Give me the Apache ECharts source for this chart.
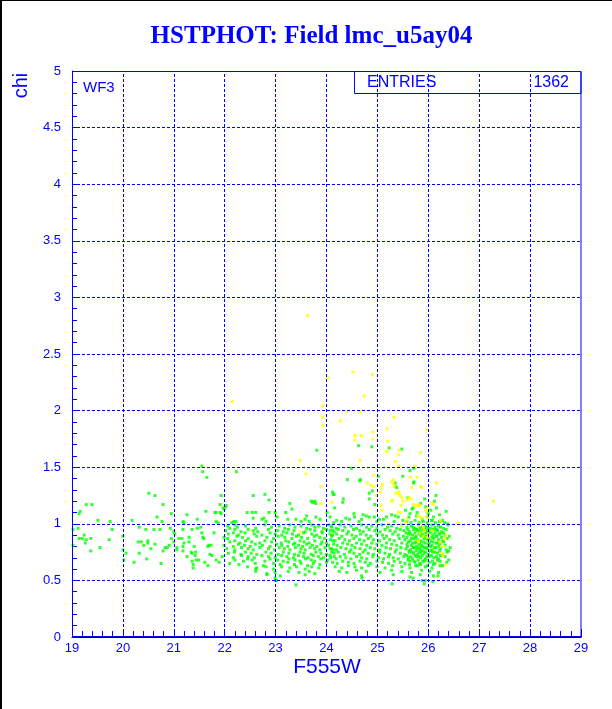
<!DOCTYPE html>
<html><head><meta charset="utf-8">
<script src="https://cdn.jsdelivr.net/npm/echarts@6/dist/echarts.min.js"></script>
<style>html,body{margin:0;padding:0;background:#fff}#c{width:612px;height:709px}</style>
</head><body><div id="c"></div>
<script>
const titleText = 'HSTPHOT: Field lmc_u5ay04';
const xName = 'F555W';
const yName = 'chi';
const chipLabel = 'WF3';
const statLabel = 'ENTRIES';
const statValue = '1362';
const xRange = [19, 29];
const yRange = [0, 5];
const xGridValues = [20, 21, 22, 23, 24, 25, 26, 27, 28];
const yGridValues = [0.5, 1, 1.5, 2, 2.5, 3, 3.5, 4, 4.5];

const greenLeft = [[19.28,1.17],[19.39,1.17],[19.14,1.09],[19.16,1.11],[19.51,1.03],[19.75,1.02],[19.12,0.96],[19.02,0.95],[19.24,0.90],[19.14,0.87],[19.20,0.87],[19.28,0.86],[19.37,0.87],[19.26,0.83],[19.02,0.81],[19.73,0.86],[19.79,0.95],[19.37,0.76],[19.55,0.79],[20.18,1.03],[20.00,0.89],[20.00,0.77],[20.06,0.74],[20.02,0.68],[20.22,0.66],[20.51,1.27],[20.63,1.25],[20.32,0.97],[20.45,0.95],[20.61,0.95],[20.73,0.95],[20.30,0.84],[20.36,0.84],[20.41,0.81],[20.49,0.83],[20.49,0.85],[20.55,0.78],[20.63,0.82],[20.32,0.74],[20.47,0.69],[20.75,0.65],[20.79,0.76],[20.83,0.79],[20.67,1.06],[20.77,1.02],[20.79,1.17],[20.95,1.09],[20.93,0.96],[20.95,0.87],[20.87,0.79],[20.91,0.81],[21.00,0.93],[21.00,0.84],[21.02,0.91],[21.10,0.87],[21.16,0.87],[21.20,1.01],[21.18,0.95],[21.26,1.08],[21.18,1.02],[21.30,0.88],[21.30,0.84],[21.20,0.83],[21.18,0.80],[21.06,0.79],[21.06,0.77],[21.18,0.76],[21.26,0.71],[21.36,0.95],[21.46,1.04],[21.46,0.96],[21.53,0.97],[21.55,0.92],[21.59,0.87],[21.57,0.88],[21.79,0.92],[21.40,0.80],[21.34,0.75],[21.36,0.74],[21.43,0.75],[21.42,0.72],[21.36,0.67],[21.44,0.68],[21.49,0.68],[21.38,0.64],[21.38,0.61],[21.61,0.66],[21.69,0.81],[21.73,0.81],[21.67,0.80],[21.71,0.73],[21.75,0.72],[21.83,0.68],[21.89,0.66],[21.67,0.63],[21.63,1.11],[21.81,1.10],[21.91,1.10],[21.83,1.02],[21.87,1.01],[21.91,1.17],[21.93,1.25],[21.97,1.14],[22.03,1.16]];

const greenMid = [[21.99,1.13],[22.01,1.15],[21.83,1.10],[21.93,1.09],[22.44,1.10],[22.54,1.10],[22.61,1.10],[22.87,1.10],[22.99,1.10],[22.56,1.05],[22.73,1.04],[22.81,1.02],[22.77,1.05],[22.18,1.02],[22.22,1.02],[22.14,1.01],[23.03,1.06],[23.20,1.10],[23.28,1.18],[23.32,1.13],[23.24,1.04],[23.40,1.04],[23.50,1.02],[23.58,1.04],[23.70,1.20],[23.75,1.19],[23.79,1.18],[23.79,1.06],[23.87,1.04],[23.66,1.02],[24.13,1.26],[24.07,1.06],[24.01,1.10],[22.56,1.25],[22.79,1.26],[22.87,1.21],
[22.06,0.98],[22.10,0.96],[22.20,0.99],[22.25,0.97],[22.41,0.98],[22.61,0.96],[22.79,0.99],[22.92,0.97],[23.07,0.98],[23.18,0.96],[23.28,0.99],[23.38,0.97],[23.50,0.98],[23.61,0.96],[23.71,0.99],[23.77,0.97],[23.85,0.98],[23.94,0.96],[24.04,0.99],[24.10,0.97],
[22.02,0.94],[22.20,0.95],[22.32,0.93],[22.46,0.95],[22.56,0.94],[22.65,0.93],[22.86,0.95],[23.04,0.94],[23.15,0.93],[23.25,0.95],[23.36,0.94],[23.58,0.93],[23.68,0.95],[23.77,0.94],[23.91,0.93],[24.00,0.95],[24.12,0.94],
[22.07,0.91],[22.17,0.92],[22.27,0.90],[22.40,0.92],[22.58,0.91],[22.73,0.90],[22.89,0.92],[22.99,0.91],[23.12,0.90],[23.22,0.92],[23.33,0.91],[23.45,0.90],[23.55,0.92],[23.71,0.91],[23.81,0.90],[23.92,0.92],[24.07,0.91],
[21.99,0.88],[22.06,0.87],[22.24,0.89],[22.35,0.88],[22.46,0.87],[22.63,0.89],[22.83,0.88],[22.96,0.87],[23.05,0.89],[23.18,0.88],[23.32,0.87],[23.41,0.89],[23.51,0.88],[23.63,0.87],[23.76,0.89],[23.87,0.88],[23.96,0.87],[24.10,0.89],
[22.10,0.84],[22.20,0.85],[22.30,0.83],[22.41,0.85],[22.53,0.84],[22.69,0.83],[22.79,0.85],[22.92,0.84],[23.11,0.83],[23.20,0.85],[23.26,0.84],[23.38,0.83],[23.48,0.85],[23.56,0.84],[23.66,0.83],[23.77,0.85],[23.91,0.84],[24.00,0.83],[24.13,0.85],
[21.99,0.81],[22.17,0.80],[22.27,0.82],[22.39,0.81],[22.50,0.80],[22.60,0.82],[22.74,0.81],[22.89,0.80],[23.02,0.82],[23.12,0.81],[23.24,0.80],[23.35,0.82],[23.45,0.81],[23.53,0.80],[23.61,0.82],[23.72,0.81],[23.81,0.80],[23.89,0.82],[24.04,0.81],
[22.04,0.78],[22.20,0.77],[22.33,0.79],[22.46,0.78],[22.56,0.77],[22.69,0.79],[22.86,0.78],[22.98,0.77],[23.07,0.79],[23.17,0.78],[23.28,0.77],[23.39,0.79],[23.50,0.78],[23.58,0.77],[23.68,0.79],[23.77,0.78],[23.87,0.77],[23.97,0.79],[24.07,0.78],[24.13,0.77],
[22.07,0.74],[22.19,0.75],[22.32,0.73],[22.41,0.75],[22.52,0.74],[22.63,0.73],[22.81,0.75],[22.91,0.74],[23.05,0.73],[23.15,0.75],[23.26,0.74],[23.37,0.73],[23.48,0.75],[23.56,0.74],[23.70,0.73],[23.79,0.75],[23.89,0.74],[24.00,0.73],[24.10,0.75],
[21.95,0.71],[22.17,0.70],[22.33,0.72],[22.46,0.71],[22.58,0.70],[22.73,0.72],[22.86,0.71],[22.99,0.70],[23.12,0.72],[23.22,0.71],[23.35,0.70],[23.45,0.72],[23.55,0.71],[23.64,0.70],[23.74,0.72],[23.84,0.71],[23.94,0.70],[24.07,0.72],[24.15,0.71],
[22.20,0.68],[22.37,0.67],[22.45,0.69],[22.54,0.68],[22.79,0.67],[22.89,0.69],[23.04,0.68],[23.15,0.67],[23.26,0.69],[23.38,0.68],[23.48,0.67],[23.59,0.69],[23.70,0.68],[23.77,0.67],[23.89,0.69],[24.02,0.68],
[22.10,0.65],[22.28,0.64],[22.60,0.65],[22.76,0.63],[22.96,0.65],[23.09,0.64],[23.24,0.66],[23.37,0.64],[23.50,0.65],[23.63,0.63],[23.74,0.65],[23.87,0.64],[24.00,0.66],
[22.45,0.62],[22.63,0.61],[22.81,0.62],[22.96,0.60],[23.12,0.62],[23.28,0.61],[23.41,0.62],[23.58,0.60],[23.71,0.62],[23.85,0.61],
[22.61,0.58],[22.99,0.57],[23.25,0.58],[23.46,0.57],[23.66,0.58],[23.77,0.56],[22.83,0.55],[23.09,0.54],[23.58,0.55],[22.99,0.52],[23.40,0.46],[23.01,0.50],[22.61,0.60]];

const greenRight = [[24.10,0.98],[24.19,0.96],[24.27,0.99],[24.36,0.97],[24.48,0.98],[24.59,0.96],[24.69,0.99],[24.79,0.97],[24.89,0.98],[24.99,0.96],[25.09,0.99],[25.20,0.97],[25.28,0.98],[25.38,0.96],[25.48,0.99],[25.58,0.97],[25.67,0.98],[25.74,0.96],[25.81,0.99],[25.87,0.97],[25.94,0.98],[26.00,0.96],[26.07,0.99],[26.13,0.97],[26.20,0.98],[26.30,0.96],[26.39,0.99],
[24.07,0.94],[24.15,0.93],[24.23,0.95],[24.32,0.94],[24.43,0.93],[24.53,0.95],[24.65,0.94],[24.72,0.93],[24.84,0.95],[24.95,0.94],[25.05,0.93],[25.15,0.95],[25.25,0.94],[25.35,0.93],[25.45,0.95],[25.52,0.94],[25.63,0.93],[25.71,0.95],[25.79,0.94],[25.85,0.93],[25.92,0.95],[25.98,0.94],[26.03,0.93],[26.10,0.95],[26.18,0.94],[26.26,0.93],[26.35,0.95],
[24.12,0.90],[24.20,0.91],[24.30,0.89],[24.40,0.91],[24.50,0.90],[24.58,0.89],[24.67,0.91],[24.78,0.90],[24.87,0.89],[24.99,0.91],[25.10,0.90],[25.18,0.89],[25.30,0.91],[25.41,0.90],[25.51,0.89],[25.61,0.91],[25.69,0.90],[25.76,0.89],[25.82,0.91],[25.89,0.90],[25.96,0.89],[26.02,0.91],[26.09,0.90],[26.15,0.89],[26.23,0.91],[26.33,0.90],[26.41,0.89],
[24.08,0.86],[24.17,0.85],[24.25,0.87],[24.36,0.86],[24.45,0.85],[24.54,0.87],[24.65,0.86],[24.74,0.85],[24.82,0.87],[24.92,0.86],[25.04,0.85],[25.13,0.87],[25.24,0.86],[25.33,0.85],[25.43,0.87],[25.54,0.86],[25.64,0.85],[25.72,0.87],[25.79,0.86],[25.85,0.85],[25.92,0.87],[25.98,0.86],[26.05,0.85],[26.11,0.87],[26.20,0.86],[26.28,0.85],[26.37,0.87],
[24.14,0.82],[24.21,0.81],[24.32,0.83],[24.41,0.82],[24.50,0.81],[24.59,0.83],[24.69,0.82],[24.79,0.81],[24.89,0.83],[24.99,0.82],[25.09,0.81],[25.18,0.83],[25.28,0.82],[25.38,0.81],[25.48,0.83],[25.58,0.82],[25.67,0.81],[25.74,0.83],[25.81,0.82],[25.87,0.81],[25.94,0.83],[26.00,0.82],[26.07,0.81],[26.15,0.83],[26.23,0.82],[26.33,0.81],
[24.10,0.78],[24.19,0.77],[24.28,0.79],[24.38,0.78],[24.48,0.77],[24.56,0.79],[24.66,0.78],[24.76,0.77],[24.86,0.79],[24.95,0.78],[25.05,0.77],[25.17,0.79],[25.26,0.78],[25.37,0.77],[25.46,0.79],[25.56,0.78],[25.65,0.77],[25.72,0.79],[25.79,0.78],[25.85,0.77],[25.92,0.79],[25.98,0.78],[26.07,0.77],[26.15,0.79],[26.24,0.78],[26.35,0.77],[26.43,0.79],
[24.15,0.74],[24.23,0.75],[24.35,0.73],[24.45,0.75],[24.54,0.74],[24.65,0.73],[24.72,0.75],[24.82,0.74],[24.92,0.73],[25.04,0.75],[25.15,0.74],[25.24,0.73],[25.35,0.75],[25.45,0.74],[25.54,0.73],[25.63,0.75],[25.71,0.74],[25.79,0.73],[25.85,0.75],[25.92,0.74],[26.00,0.73],[26.09,0.75],[26.18,0.74],[26.28,0.73],[26.37,0.75],
[24.08,0.70],[24.19,0.69],[24.27,0.71],[24.38,0.70],[24.48,0.69],[24.59,0.71],[24.69,0.70],[24.79,0.69],[24.91,0.71],[25.02,0.70],[25.12,0.69],[25.22,0.71],[25.31,0.70],[25.41,0.69],[25.52,0.71],[25.61,0.70],[25.69,0.69],[25.77,0.71],[25.85,0.70],[25.94,0.69],[26.02,0.71],[26.11,0.70],[26.20,0.69],[26.33,0.71],
[24.12,0.66],[24.21,0.65],[24.32,0.67],[24.43,0.66],[24.54,0.65],[24.66,0.67],[24.76,0.66],[24.86,0.65],[24.99,0.67],[25.10,0.66],[25.22,0.65],[25.33,0.67],[25.45,0.66],[25.54,0.65],[25.64,0.67],[25.74,0.66],[25.83,0.65],[25.92,0.67],[26.02,0.66],[26.13,0.65],[26.23,0.67],[26.36,0.66],
[24.17,0.62],[24.30,0.61],[24.43,0.63],[24.56,0.62],[24.69,0.61],[24.82,0.63],[24.99,0.62],[25.15,0.61],[25.30,0.63],[25.48,0.62],[25.64,0.61],[25.79,0.63],[25.94,0.62],[26.07,0.61],[26.23,0.63],
[24.25,0.58],[24.40,0.57],[24.59,0.59],[24.78,0.58],[25.05,0.57],[25.28,0.59],[25.48,0.58],[25.67,0.57],[25.87,0.59],[26.03,0.58],[26.20,0.57],
[24.69,0.54],[25.31,0.55],[25.64,0.53],[25.84,0.55],[26.10,0.54],[25.70,0.52],[25.94,0.50],[25.29,0.47],[25.92,0.47],[25.88,0.50],[26.09,0.49],[26.19,0.54],[24.70,0.52]];

const greenCore = [[25.60,0.95],[25.70,0.97],[25.77,0.95],[25.84,0.96],[25.90,0.95],[25.96,0.97],[26.04,0.96],[26.16,0.95],[26.24,0.97],
[25.56,0.92],[25.65,0.91],[25.74,0.92],[25.83,0.93],[25.88,0.91],[25.95,0.92],[26.06,0.93],[26.13,0.92],[26.21,0.91],[26.30,0.92],
[25.58,0.88],[25.67,0.87],[25.75,0.88],[25.86,0.89],[25.94,0.88],[26.00,0.87],[26.07,0.88],[26.17,0.89],[26.26,0.88],
[25.61,0.84],[25.69,0.83],[25.76,0.84],[25.83,0.83],[25.90,0.84],[26.02,0.83],[26.09,0.84],[26.18,0.83],[26.30,0.84],
[25.59,0.80],[25.70,0.79],[25.77,0.80],[25.83,0.79],[25.89,0.80],[25.96,0.79],[26.04,0.80],[26.12,0.79],[26.21,0.80],
[25.62,0.76],[25.68,0.75],[25.76,0.76],[25.82,0.75],[25.90,0.76],[25.95,0.75],[26.04,0.76],[26.13,0.75],[26.22,0.76],[26.40,0.76],
[25.58,0.72],[25.66,0.71],[25.74,0.72],[25.81,0.71],[25.88,0.72],[25.97,0.71],[26.06,0.72],[26.16,0.71],[26.24,0.72],
[25.60,0.68],[25.72,0.67],[25.80,0.68],[25.89,0.67],[25.96,0.68],[26.08,0.67],[26.18,0.68],[26.40,0.68],
[25.63,0.64],[25.75,0.63],[25.85,0.64],[25.98,0.63],[26.10,0.64],[26.28,0.63],
[25.58,1.02],[25.66,1.01],[25.74,1.03],[25.82,1.01],[25.90,1.02],[25.98,1.01],[26.06,1.03],[26.14,1.01],[26.22,1.02],[26.32,1.01],[25.50,1.03],[25.62,1.06],[25.78,1.10],[25.85,1.18],[25.95,1.15],[26.05,1.12],[26.12,1.20],[25.88,1.04],[25.98,1.06],[26.08,1.03],[26.22,1.08],[26.28,1.03],[26.38,1.00],[25.55,1.12],[26.15,1.25],[25.93,1.22],[25.70,1.14],[26.00,1.09]];

const greenUpper = [[24.15,1.26],[24.33,1.22],[24.84,1.27],[25.35,1.33],[25.71,1.36],[25.60,1.23],[24.95,1.17],[25.64,1.09],[25.68,1.13],[26.16,1.14],[26.35,1.11],[26.10,1.06],[25.77,1.07],[25.41,1.06],[25.28,1.08],[25.35,1.07],[25.33,1.02],[25.18,1.06],[25.12,1.04],[25.04,1.04],[24.99,1.02],[24.94,1.06],[24.84,1.06],[24.78,1.07],[24.72,1.08],[24.69,1.04],[24.64,1.02],[24.55,1.06],[24.54,1.09],[24.45,1.04],[24.38,1.05],[24.30,1.02],[24.20,1.03],[24.14,1.01],[24.16,1.14],[24.32,1.19],[24.84,1.22],[24.90,1.29],[24.12,1.28],[23.77,1.20],[23.72,1.19]];

const greenSparse = [[24.63,1.69],[24.89,1.68],[25.23,1.67],[25.48,1.66],[23.81,1.65],[25.72,1.49],[25.64,1.47],[25.02,1.42],[25.50,1.42],[24.49,1.49],[24.41,1.39],[24.67,1.39],[25.35,1.36],[25.72,1.37],[25.38,1.32],[22.23,1.46],[21.57,1.46],[21.65,1.41],[21.55,1.51],[24.65,1.38],[23.61,1.07],[22.83,0.56],[23.01,0.50]];

const yellowPts = [[23.63,2.84],[22.15,2.08],[24.52,2.34],[24.90,2.32],[24.03,2.29],[24.74,2.13],[23.92,2.04],[24.39,1.99],[24.66,1.99],[25.33,1.94],[23.92,1.94],[24.27,1.91],[23.93,1.87],[25.19,1.84],[25.97,1.83],[24.56,1.78],[24.68,1.78],[24.91,1.81],[24.91,1.75],[24.56,1.74],[25.20,1.73],[25.42,1.65],[25.18,1.64],[25.42,1.61],[25.85,1.63],[23.48,1.56],[24.66,1.56],[25.35,1.55],[25.42,1.51],[25.74,1.51],[23.60,1.44],[24.93,1.43],[25.65,1.41],[25.78,1.41],[25.31,1.39],[25.28,1.37],[24.80,1.36],[25.10,1.35],[24.87,1.34],[26.16,1.36],[25.33,1.33],[25.67,1.32],[25.87,1.32],[27.28,1.20],[23.89,1.33],[24.11,1.19],
[24.93,1.33],[24.98,1.25],[25.06,1.28],[25.08,1.32],[25.31,1.35],[25.36,1.27],[25.42,1.28],[25.85,1.33],[25.66,1.22],[25.62,1.23],[25.48,1.23],[25.07,1.16],[25.09,1.12],[25.28,1.20],[25.50,1.20],[25.46,1.16],[25.79,1.16],[25.83,1.16],[25.94,1.12],[25.97,1.11],[26.10,1.17],[26.24,1.03],[25.97,1.06],[25.87,1.05],[25.80,1.07],[25.84,1.06],[25.58,1.04],[25.56,1.01],[25.46,1.10],[25.41,1.10],[26.58,1.01],
[25.81,0.84],[25.92,0.94],[26.02,0.90],[26.25,0.80],[26.29,0.72],[25.90,0.97],[25.83,0.99],[26.33,0.87],[26.07,0.94],[25.98,0.88],[26.34,0.64],[23.48,0.93],[25.22,1.00],[26.23,0.84],[26.28,0.74],[26.35,0.90],[25.74,1.16],[25.82,1.17],[26.00,1.15],[25.30,1.21],[25.58,1.21],[25.44,1.25],[25.42,1.27],[25.71,1.17],[26.07,1.18],[25.48,0.99],[25.84,0.92],[25.80,0.85],[25.90,0.89],[26.31,0.80],[23.89,1.18]];

const BLUE = '#0000ff';
const greenAll = [].concat(greenLeft, greenMid, greenRight, greenCore, greenUpper, greenSparse);
const gridLines = xGridValues.map(v => ({xAxis: v})).concat(yGridValues.map(v => ({yAxis: v})));

const chart = echarts.init(document.getElementById('c'), null, {renderer: 'canvas'});
const axisFont = 'Liberation Sans';
chart.setOption({
  animation: false,
  backgroundColor: '#ffffff',
  grid: {left: 72, top: 71, width: 509, height: 566, containLabel: false, show: false},
  xAxis: {
    type: 'value', min: xRange[0], max: xRange[1], interval: 1,
    axisLine: {show: true, onZero: false, lineStyle: {color: '#000', width: 1}},
    axisTick: {show: true, inside: true, length: 8, lineStyle: {color: BLUE}},
    minorTick: {show: true, splitNumber: 5, length: 6, lineStyle: {color: BLUE}},
    minorSplitLine: {show: false},
    axisLabel: {color: BLUE, fontSize: 13, margin: 5, fontFamily: axisFont},
    splitLine: {show: false}, splitArea: {show: false}
  },
  yAxis: {
    type: 'value', min: yRange[0], max: yRange[1], interval: 0.5,
    axisLine: {show: true, onZero: false, lineStyle: {color: BLUE, width: 1}},
    axisTick: {show: true, inside: true, length: 8, lineStyle: {color: BLUE}},
    minorTick: {show: true, splitNumber: 5, length: 5, lineStyle: {color: BLUE}},
    minorSplitLine: {show: false},
    axisLabel: {color: BLUE, fontSize: 13, margin: 11, fontFamily: axisFont},
    splitLine: {show: false}, splitArea: {show: false}
  },
  series: [{
    type: 'scatter', symbol: 'rect', symbolSize: 3,
    itemStyle: {color: '#00ff00'}, data: greenAll, silent: true, z: 2
  }, {
    type: 'scatter', symbol: 'rect', symbolSize: 3,
    itemStyle: {color: '#ffff00'}, data: yellowPts, silent: true, z: 3
  }, {
    type: 'scatter', data: [], silent: true, z: 10,
    markLine: {
      silent: true, symbol: ['none', 'none'], label: {show: false}, animation: false,
      lineStyle: {color: BLUE, type: [3, 2], width: 1, opacity: 1},
      emphasis: {disabled: true},
      data: gridLines
    }
  }],
  graphic: [
    {type: 'rect', shape: {x: 0, y: 0, width: 2, height: 709}, style: {fill: '#000'}, z: 50},
    {type: 'rect', shape: {x: 0, y: 0, width: 612, height: 1}, style: {fill: '#000'}, z: 50},
    {type: 'rect', shape: {x: 72.5, y: 71.5, width: 508.5, height: 565}, style: {fill: null, stroke: BLUE, lineWidth: 1}, z: 40},
    {type: 'text', x: 311.5, y: 37, z: 50, style: {text: titleText, fill: BLUE, font: 'bold 25px "Liberation Serif"', align: 'center', verticalAlign: 'middle'}},
    {type: 'text', x: 21, y: 85.5, rotation: Math.PI / 2, z: 50, style: {text: yName, fill: BLUE, font: '20px "Liberation Sans"', align: 'center', verticalAlign: 'middle'}},
    {type: 'text', x: 327, y: 667, z: 50, style: {text: xName, fill: BLUE, font: '21px "Liberation Sans"', align: 'center', verticalAlign: 'middle'}},
    {type: 'text', x: 83, y: 88, z: 50, style: {text: chipLabel, fill: BLUE, font: '15px "Liberation Sans"', align: 'left', verticalAlign: 'middle'}},
    {type: 'rect', shape: {x: 354.5, y: 71.5, width: 226.5, height: 22}, style: {fill: null, stroke: BLUE, lineWidth: 1}, z: 50},
    {type: 'text', x: 367, y: 83, z: 50, style: {text: statLabel, fill: BLUE, font: '16px "Liberation Sans"', align: 'left', verticalAlign: 'middle'}},
    {type: 'text', x: 569, y: 83, z: 50, style: {text: statValue, fill: BLUE, font: '16px "Liberation Sans"', align: 'right', verticalAlign: 'middle'}}
  ]
});
</script>
</body></html>
